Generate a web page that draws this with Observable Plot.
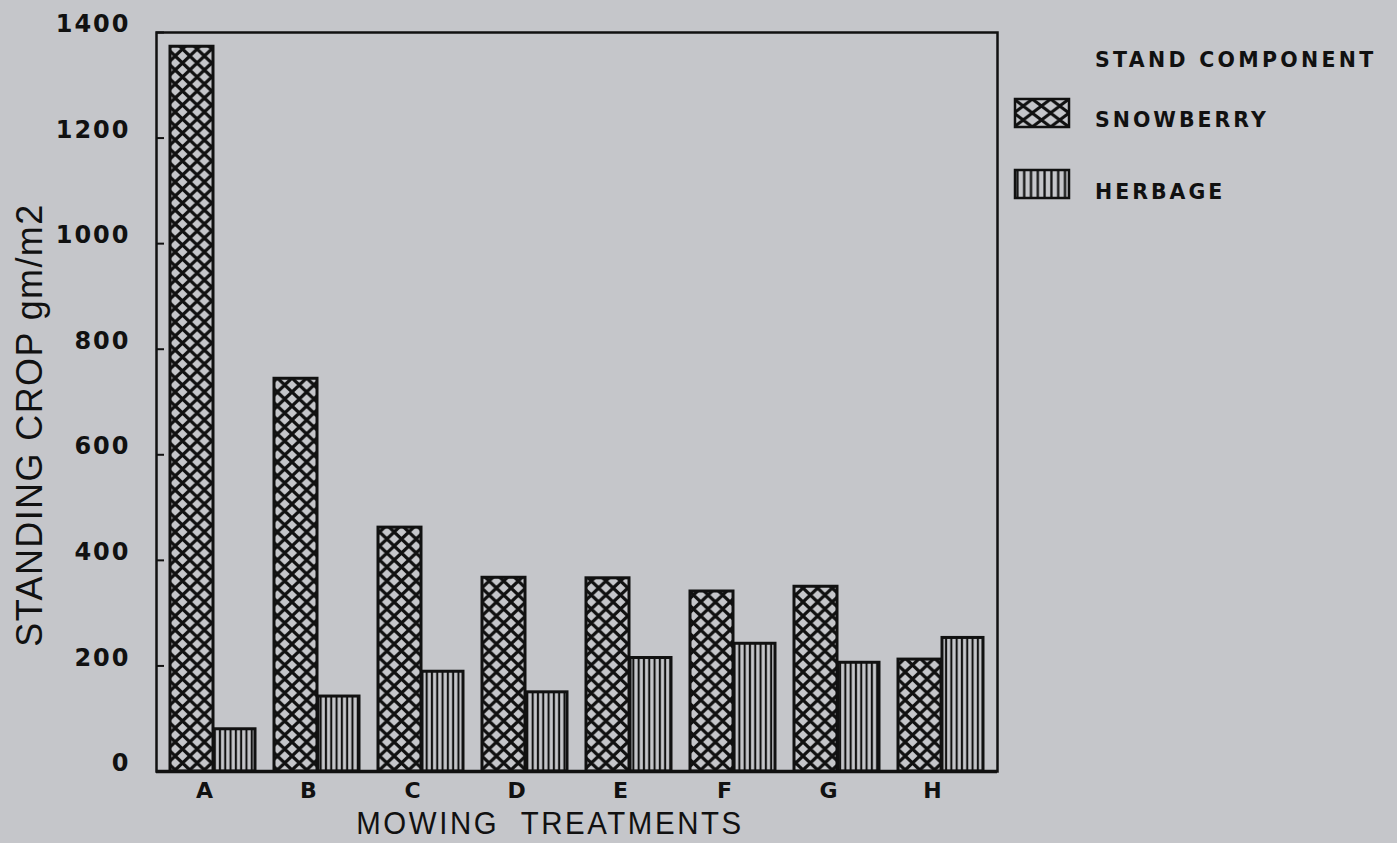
<!DOCTYPE html>
<html>
<head>
<meta charset="utf-8">
<script src="https://cdn.jsdelivr.net/npm/d3@7"></script>
<script src="https://cdn.jsdelivr.net/npm/@observablehq/plot@0.6"></script>
<style>
  html, body { margin: 0; padding: 0; background: #c5c6ca; }
  #wrap { position: relative; width: 1397px; height: 843px; overflow: hidden; }
  #chart svg { display: block; }
  #legend { position: absolute; left: 0; top: 0; }
  [aria-label="y-axis tick label"] text { letter-spacing: 2px; }
  [aria-label="x-axis tick label"] text { letter-spacing: 1px; }
</style>
</head>
<body>
<svg width="0" height="0" style="position:absolute">
  <defs>
    <pattern id="pat-snow" patternUnits="userSpaceOnUse" width="14.6" height="14">
      <rect width="14.6" height="14" fill="#c5c6ca"/>
      <path d="M-2,-1.92L16.6,15.92M16.6,-1.92L-2,15.92" stroke="#111" stroke-width="3.2"/>
    </pattern>
    <pattern id="pat-herb" patternUnits="userSpaceOnUse" width="5.3" height="10">
      <rect width="5.3" height="10" fill="#c5c6ca"/>
      <path d="M2.65,-1V11" stroke="#111" stroke-width="2.1"/>
    </pattern>
    <pattern id="pat-snow-lg" patternUnits="userSpaceOnUse" width="18.3" height="14" x="1014" y="99">
      <rect width="18.3" height="14" fill="#c5c6ca"/>
      <path d="M-2,-1.53L20.3,15.53M20.3,-1.53L-2,15.53" stroke="#111" stroke-width="3"/>
    </pattern>
    <pattern id="pat-herb-lg" patternUnits="userSpaceOnUse" width="6.8" height="10" x="1014">
      <rect width="6.8" height="10" fill="#c5c6ca"/>
      <path d="M3.4,-1V11" stroke="#111" stroke-width="2.3"/>
    </pattern>
  </defs>
</svg>
<div id="wrap">
  <div id="chart"></div>
  <svg id="legend" width="1397" height="843"></svg>
</div>
<script>
const treatments = ["A", "B", "C", "D", "E", "F", "G", "H"];
const components = ["SNOWBERRY", "HERBAGE"];
const snowberry = [1373, 744, 462, 367, 366, 341, 350, 212];
const herbage = [80, 142, 189, 150, 215, 242, 206, 253];
const yTicks = [0, 200, 400, 600, 800, 1000, 1200, 1400];
const xTitle = "MOWING\u00a0\u00a0TREATMENTS";
const yTitle = "STANDING CROP gm/m2";
const legendTitle = "STAND COMPONENT";

const snowRows = treatments.map((t, i) => ({treatment: t, component: components[0], value: snowberry[i]}));
const herbRows = treatments.map((t, i) => ({treatment: t, component: components[1], value: herbage[i]}));

const ink = "#111";
const plot = Plot.plot({
  width: 1397,
  height: 843,
  marginLeft: 156,
  marginRight: 400,
  marginTop: 32,
  marginBottom: 72,
  style: {background: "transparent", fontFamily: "'DejaVu Sans', sans-serif", color: ink},
  x: {domain: treatments, paddingInner: 0.18, paddingOuter: 0.095, axis: null},
  y: {domain: [0, 1400], axis: null},
  marks: [
    Plot.barY(snowRows, {x: "treatment", y: "value", fill: "url(#pat-snow)", stroke: ink, strokeWidth: 3, insetRight: 42}),
    Plot.barY(herbRows, {x: "treatment", y: "value", fill: "url(#pat-herb)", stroke: ink, strokeWidth: 3, insetLeft: 44}),
    Plot.ruleY(yTicks, {stroke: ink, strokeWidth: 2, insetRight: 833}),
    Plot.frame({stroke: ink, strokeWidth: 2.5}),
    Plot.ruleY([0], {stroke: ink, strokeWidth: 3.5}),
    Plot.axisY(yTicks, {tickSize: 0, tickPadding: 26, fontSize: 24, fontWeight: "bold", dy: -8, label: null, tickFormat: d => String(d)}),
    Plot.axisX(treatments, {tickSize: 0, tickPadding: 11, fontSize: 22, fontWeight: "bold", dx: -8, label: null}),
    Plot.text([xTitle], {text: d => d, frameAnchor: "bottom", textAnchor: "middle", lineAnchor: "middle", dx: -27, dy: 52, fontSize: 32,
      fontFamily: "'Liberation Sans', sans-serif", fill: ink}),
    Plot.text([yTitle], {text: d => d, frameAnchor: "left", textAnchor: "middle", lineAnchor: "middle", rotate: -90, dx: -126, dy: 23, fontSize: 36,
      fontFamily: "'Liberation Sans', sans-serif", fill: ink})
  ]
});
document.getElementById("chart").appendChild(plot);
plot.querySelectorAll("text").forEach(t => {
  if (t.textContent === yTitle) t.style.letterSpacing = "1.4px";
  if (t.textContent === xTitle) {
    t.style.letterSpacing = "2.8px";
    const tr = t.getAttribute("transform") || "";
    t.setAttribute("transform", tr + " scale(0.92,1)");
  }
});

// Legend
const lg = d3.select("#legend");
const lgFont = "bold 20.5px 'DejaVu Sans', sans-serif";
lg.append("text").attr("x", 1095).attr("y", 67).text(legendTitle)
  .style("font", lgFont).style("letter-spacing", "3.3px").attr("fill", ink);
const swatches = [
  {label: components[0], fill: "url(#pat-snow-lg)", y: 99, ty: 127},
  {label: components[1], fill: "url(#pat-herb-lg)", y: 170, ty: 199}
];
swatches.forEach(s => {
  lg.append("rect").attr("x", 1015).attr("y", s.y).attr("width", 54).attr("height", 28)
    .attr("fill", s.fill).attr("stroke", ink).attr("stroke-width", 2.5);
  lg.append("text").attr("x", 1095).attr("y", s.ty).text(s.label)
    .style("font", lgFont).style("letter-spacing", "3px").attr("fill", ink);
});
</script>
</body>
</html>
